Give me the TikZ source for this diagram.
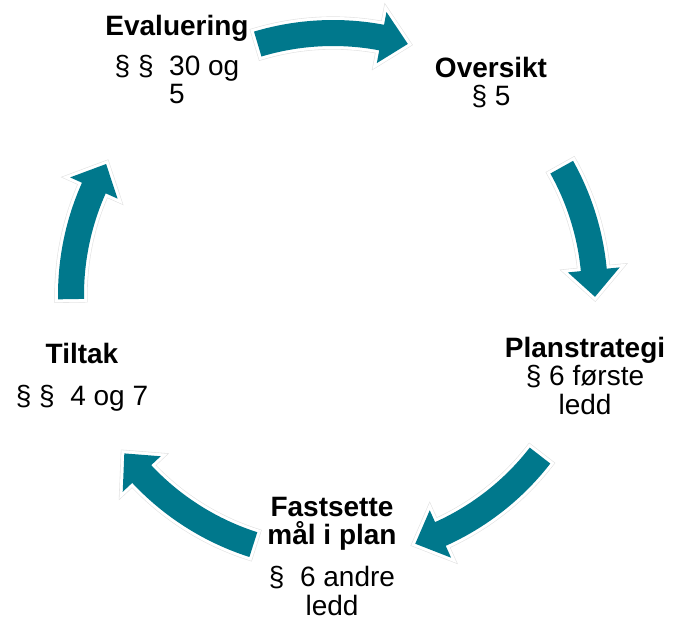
\documentclass[tikz,border=0pt]{standalone}
\usepackage{fontspec}
\setmainfont{Liberation Sans}
\definecolor{planTeal}{HTML}{00788C}
\definecolor{haloGray}{HTML}{E2E2E2}
\tikzset{
  stepText/.style={align=center, inner sep=0pt, anchor=north,
                   font=\fontsize{14}{14.25}\selectfont},
  cycArrow/.style={fill=planTeal, line join=round,
                   preaction={draw=haloGray, line width=3.6pt},
                   preaction={draw=white, line width=3pt}},
}
\begin{document}
\begin{tikzpicture}[scale=0.17573]
    \useasboundingbox (0,0) rectangle (67.3,-62.1);
    \begin{scope}[shift={(33.3,-29.5)}]
      \foreach \a/\b in {106.7/73.4, 29.2/-0.4, -37.8/-71.7, -107.7/-142.8, 180.9/150} {
        \pgfmathsetmacro{\h}{\b+5.9}
        \path[cycArrow] (\a:27.5) arc[start angle=\a, end angle=\h, radius=27.5]
          -- (\h:28.8) -- (\b:26.2) -- (\h:23.6) -- (\h:24.9)
          arc[start angle=\h, end angle=\a, radius=24.9] -- cycle;
      }
    \end{scope}
    \node[stepText] (evaluering) at (17.7,-1.44) {\textbf{Evaluering}\\[5.75pt] § §~~30 og\\ 5};
    \node[stepText] (oversikt) at (49.1,-5.64) {\textbf{Oversikt}\\ § 5};
    \node[stepText] (planstrategi) at (58.5,-33.64) {\textbf{Planstrategi}\\ § 6 første\\ ledd};
    \node[stepText] (fastsette) at (33.2,-49.64) {\textbf{Fastsette}\\ \textbf{mål i plan}\\[6.75pt] §~~6 andre\\ ledd};
    \node[stepText] (tiltak) at (8.2,-34.24) {\textbf{Tiltak}\\[6.75pt] § §~~4 og 7};
  \end{tikzpicture}
\end{document}
